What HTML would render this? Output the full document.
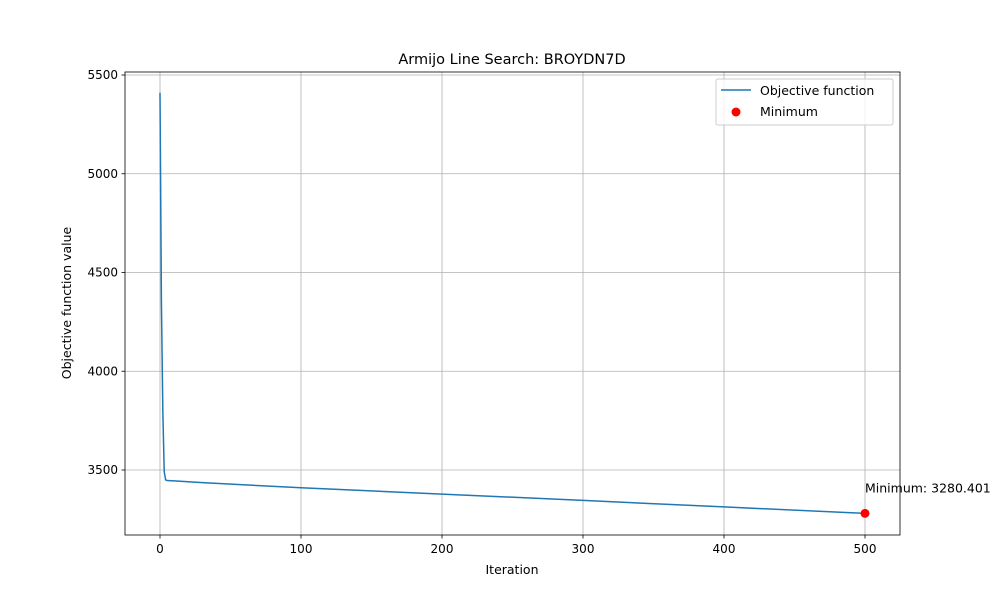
<!DOCTYPE html>
<html><head><meta charset="utf-8"><style>body{margin:0;background:#fff}svg text{font-family:"DejaVu Sans","Liberation Sans",sans-serif}</style></head>
<body>
<svg id="c" width="1000" height="600" xmlns="http://www.w3.org/2000/svg"></svg>
<script>
const iters=[0,1,2,3,4,5,10,30,100,200,300,400,500];
const values=[5410,4350,3800,3490,3450,3447,3445,3436,3410,3378,3346,3313,3280.401];
const xTicks=[0,100,200,300,400,500];
const yTicks=[3500,4000,4500,5000,5500];
const minIter=500, minVal=3280.401;
const L=125,R=900,T=72,B=535;
const sx=v=>160+(v-0)*(865-160)/500;
const sy=v=>75+(5500-v)*(470-75)/2000;
const svg=document.getElementById('c');const NS='http://www.w3.org/2000/svg';
function mk(t,a,p){const e=document.createElementNS(NS,t);for(const k in a)e.setAttribute(k,a[k]);(p||svg).appendChild(e);return e;}
xTicks.forEach(v=>{const x=sx(v);
const g=mk('line',{x1:x,x2:x,y1:T,y2:B,stroke:'#b0b0b0','stroke-width':0.8});


mk('line',{x1:x,x2:x,y1:B,y2:B+3.5,stroke:'#000','stroke-width':0.8});
const t=mk('text',{x:x,y:B+18,'text-anchor':'middle','font-size':12});t.textContent=v;

});
yTicks.forEach(v=>{const y=sy(v);
const g=mk('line',{x1:L,x2:R,y1:y,y2:y,stroke:'#b0b0b0','stroke-width':0.8});


mk('line',{x1:L-3.5,x2:L,y1:y,y2:y,stroke:'#000','stroke-width':0.8});
const t=mk('text',{x:L-7,y:y+4,'text-anchor':'end','font-size':12});t.textContent=v;

});
const line=mk('polyline',{points:iters.map((v,i)=>sx(v)+','+sy(values[i])).join(' '),fill:'none',stroke:'#1f77b4','stroke-width':1.5});


const dot=mk('circle',{cx:sx(minIter),cy:sy(minVal),r:4.5,fill:'red'});


const an=mk('text',{x:sx(minIter),y:sy(minVal)-21,'font-size':12.5});an.textContent='Minimum: '+minVal.toFixed(3);


const fr=mk('rect',{x:L,y:T,width:R-L,height:B-T,fill:'none',stroke:'#000','stroke-width':0.8});


const ti=mk('text',{x:512,y:64,'text-anchor':'middle','font-size':14.5});ti.textContent='Armijo Line Search: BROYDN7D';


const xl=mk('text',{x:512,y:574,'text-anchor':'middle','font-size':12.5});xl.textContent='Iteration';


const yl=mk('text',{x:71,y:303,'text-anchor':'middle','font-size':12.5,transform:'rotate(-90 71 303)'});yl.textContent='Objective function value';


const lg=mk('g',{});


mk('rect',{x:716,y:79,width:177,height:46,rx:2,fill:'#fff','fill-opacity':0.8,stroke:'#ccc'},lg);
mk('line',{x1:721,x2:751,y1:90,y2:90,stroke:'#1f77b4','stroke-width':1.5},lg);
const l1=mk('text',{x:760,y:95,'font-size':12.5},lg);l1.textContent='Objective function';


mk('circle',{cx:736,cy:112,r:4.5,fill:'red'},lg);
const l2=mk('text',{x:760,y:116,'font-size':12.5},lg);l2.textContent='Minimum';


</script>
</body></html>
